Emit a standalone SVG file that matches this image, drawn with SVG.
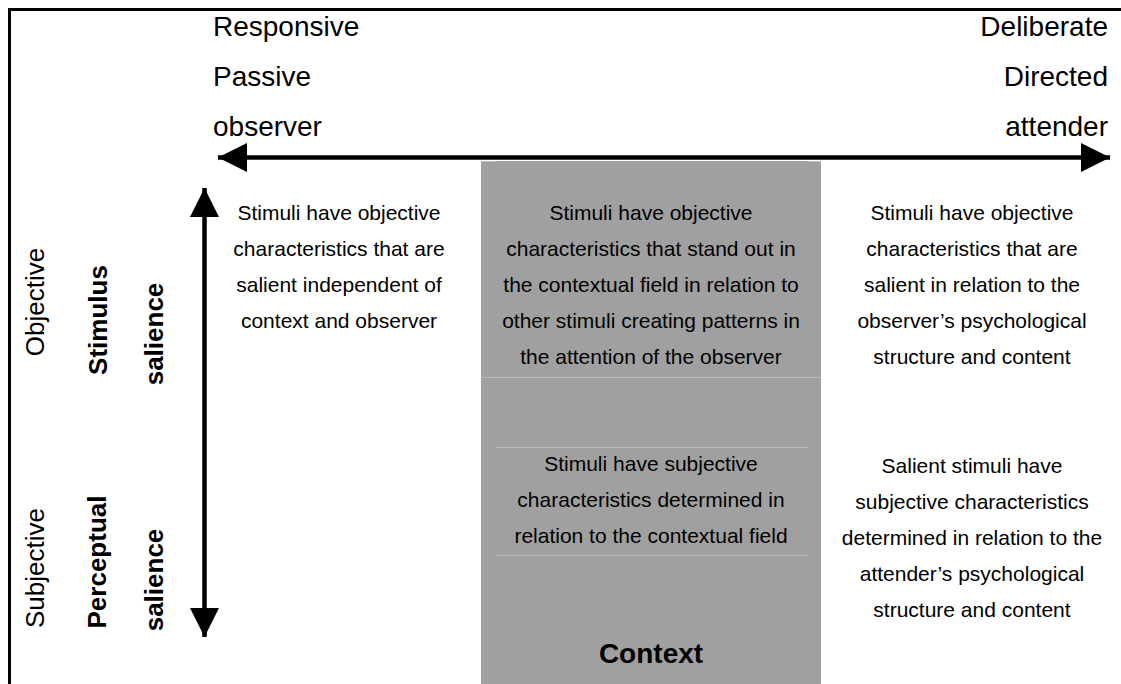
<svg xmlns="http://www.w3.org/2000/svg" width="1121" height="684" viewBox="0 0 1121 684">
<style>
text{font-family:"Liberation Sans",Arial,sans-serif;fill:#000}
.hdr{font-size:28px}
.body{font-size:21px;text-anchor:middle}
.vlab{font-size:26px;text-anchor:middle}
.vbold{font-size:26px;font-weight:bold;text-anchor:middle}
.ctx{font-size:28px;font-weight:bold;text-anchor:middle}
.sep{stroke:#bcbcbc;stroke-width:1;fill:none}
.axis{stroke:#000;stroke-width:4.5;fill:none}
</style>
<defs>
<marker id="head" markerUnits="userSpaceOnUse" markerWidth="30" markerHeight="29" refX="29" refY="14.5" orient="auto-start-reverse" viewBox="0 0 30 29">
<path d="M0,0 L29,14.5 L0,29 Z" fill="#000"/>
</marker>
</defs>
<rect width="1121" height="684" fill="#fff"/>
<g id="frame"><path d="M9.5,684 V9.5 H1121" fill="none" stroke="#000" stroke-width="3"/></g>
<g id="context-band">
<rect x="481" y="161" width="340" height="523" fill="#a0a0a0"/>
<line class="sep" x1="481" y1="161.5" x2="496" y2="161.5"/>
<line class="sep" x1="808" y1="161.5" x2="821" y2="161.5"/>
<line class="sep" x1="481" y1="377.5" x2="821" y2="377.5"/>
<line class="sep" x1="496" y1="447.5" x2="808" y2="447.5"/>
<line class="sep" x1="496" y1="555.5" x2="808" y2="555.5"/>
<text class="ctx" x="651" y="663">Context</text>
</g>
<g id="connectors">
<line class="axis" x1="218" y1="157.5" x2="1110" y2="157.5" marker-start="url(#head)" marker-end="url(#head)"/>
<line class="axis" x1="204.5" y1="188" x2="204.5" y2="637" marker-start="url(#head)" marker-end="url(#head)"/>
</g>
<g id="label-left">
<text class="hdr" x="213" y="36">Responsive</text>
<text class="hdr" x="213" y="86">Passive</text>
<text class="hdr" x="213" y="136">observer</text>
</g>
<g id="label-right">
<text class="hdr" x="1108" y="36" text-anchor="end">Deliberate</text>
<text class="hdr" x="1108" y="86" text-anchor="end">Directed</text>
<text class="hdr" x="1108" y="136" text-anchor="end">attender</text>
</g>
<g id="label-objective">
<text class="vlab" x="44" y="302" transform="rotate(-90 44 302)">Objective</text>
<text class="vbold" x="107" y="320" transform="rotate(-90 107 320)">Stimulus</text>
<text class="vbold" x="163" y="334" transform="rotate(-90 163 334)">salience</text>
</g>
<g id="label-subjective">
<text class="vlab" x="44" y="568" transform="rotate(-90 44 568)">Subjective</text>
<text class="vbold" x="106" y="562" transform="rotate(-90 106 562)">Perceptual</text>
<text class="vbold" x="163" y="580" transform="rotate(-90 163 580)">salience</text>
</g>
<g id="cell-obj-responsive">
<text class="body" x="339" y="220">Stimuli have objective</text>
<text class="body" x="339" y="256">characteristics that are</text>
<text class="body" x="339" y="292">salient independent of</text>
<text class="body" x="339" y="328">context and observer</text>
</g>
<g id="cell-obj-context">
<text class="body" x="651" y="220">Stimuli have objective</text>
<text class="body" x="651" y="256">characteristics that stand out in</text>
<text class="body" x="651" y="292">the contextual field in relation to</text>
<text class="body" x="651" y="328">other stimuli creating patterns in</text>
<text class="body" x="651" y="364">the attention of the observer</text>
</g>
<g id="cell-obj-deliberate">
<text class="body" x="972" y="220">Stimuli have objective</text>
<text class="body" x="972" y="256">characteristics that are</text>
<text class="body" x="972" y="292">salient in relation to the</text>
<text class="body" x="972" y="328">observer’s psychological</text>
<text class="body" x="972" y="364">structure and content</text>
</g>
<g id="cell-subj-context">
<text class="body" x="651" y="471">Stimuli have subjective</text>
<text class="body" x="651" y="507">characteristics determined in</text>
<text class="body" x="651" y="543">relation to the contextual field</text>
</g>
<g id="cell-subj-deliberate">
<text class="body" x="972" y="473">Salient stimuli have</text>
<text class="body" x="972" y="509">subjective characteristics</text>
<text class="body" x="972" y="545">determined in relation to the</text>
<text class="body" x="972" y="581">attender’s psychological</text>
<text class="body" x="972" y="617">structure and content</text>
</g>
</svg>
